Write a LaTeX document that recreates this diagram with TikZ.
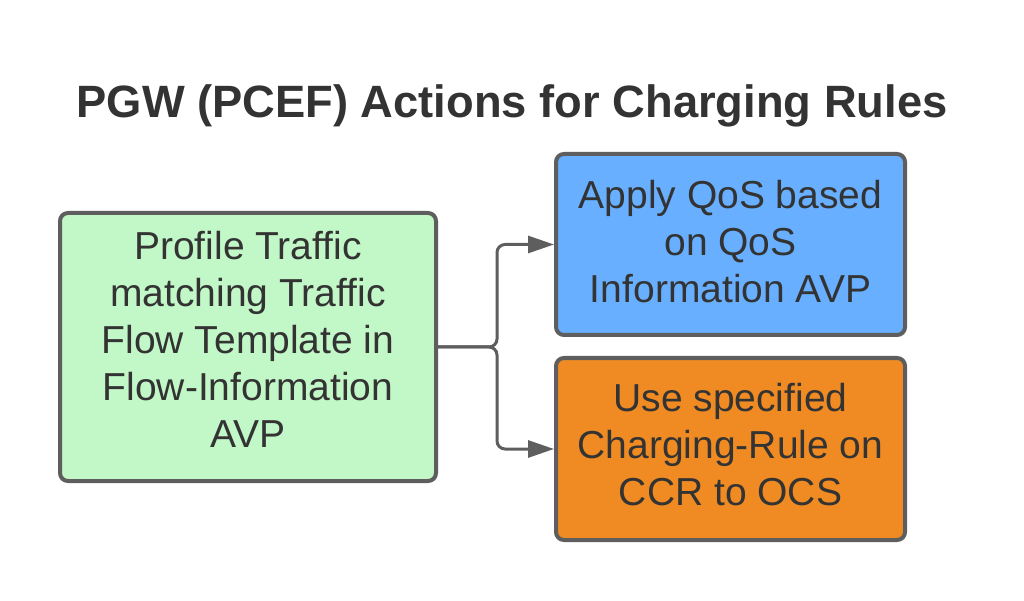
\documentclass[tikz,border=0pt]{standalone}
\usepackage{fontspec}
\setmainfont{Liberation Sans}
\usepackage{tikz}
\usetikzlibrary{arrows.meta}
\definecolor{edgegray}{RGB}{94,94,94}
\definecolor{txtgray}{RGB}{51,51,51}
\definecolor{matchgreen}{RGB}{194,247,199}
\definecolor{qosblue}{RGB}{104,175,255}
\definecolor{ccrorange}{RGB}{239,139,34}
\tikzset{
actionbox/.style={draw=edgegray, line width=4pt, rounded corners=8pt, text=txtgray,
  align=center, font=\fontsize{39}{47}\selectfont, inner sep=0pt},
flowarrow/.style={draw=edgegray, line width=3pt, rounded corners=8pt,
  -{Triangle[length=26pt,width=17pt]}}
}
\begin{document}
\begin{tikzpicture}[x=1pt,y=1pt]
\useasboundingbox (0,0) rectangle (1024,600);
\node[text=txtgray, font=\fontsize{45.3}{54}\selectfont\bfseries] at (512,494) (title) {PGW (PCEF) Actions for Charging Rules};
\node[actionbox, fill=matchgreen, minimum width=376pt, minimum height=268pt, text depth=15pt] at (248,253) (profile)
  {Profile Traffic\\matching Traffic\\Flow Template in\\Flow-Information\\AVP};
\node[actionbox, fill=qosblue, minimum width=349pt, minimum height=181pt, text depth=6pt] at (730.5,355.5) (qos)
  {Apply QoS based\\on QoS\\Information AVP};
\node[actionbox, fill=ccrorange, minimum width=349pt, minimum height=182pt, text depth=10pt] at (730.5,151) (ccr)
  {Use specified\\Charging-Rule on\\CCR to OCS};
\coordinate (split) at (497,253);
\draw[flowarrow] (profile.east) -- (split) |- (qos.west);
\draw[flowarrow] (profile.east) -- (split) |- (ccr.west);
\end{tikzpicture}
\end{document}
